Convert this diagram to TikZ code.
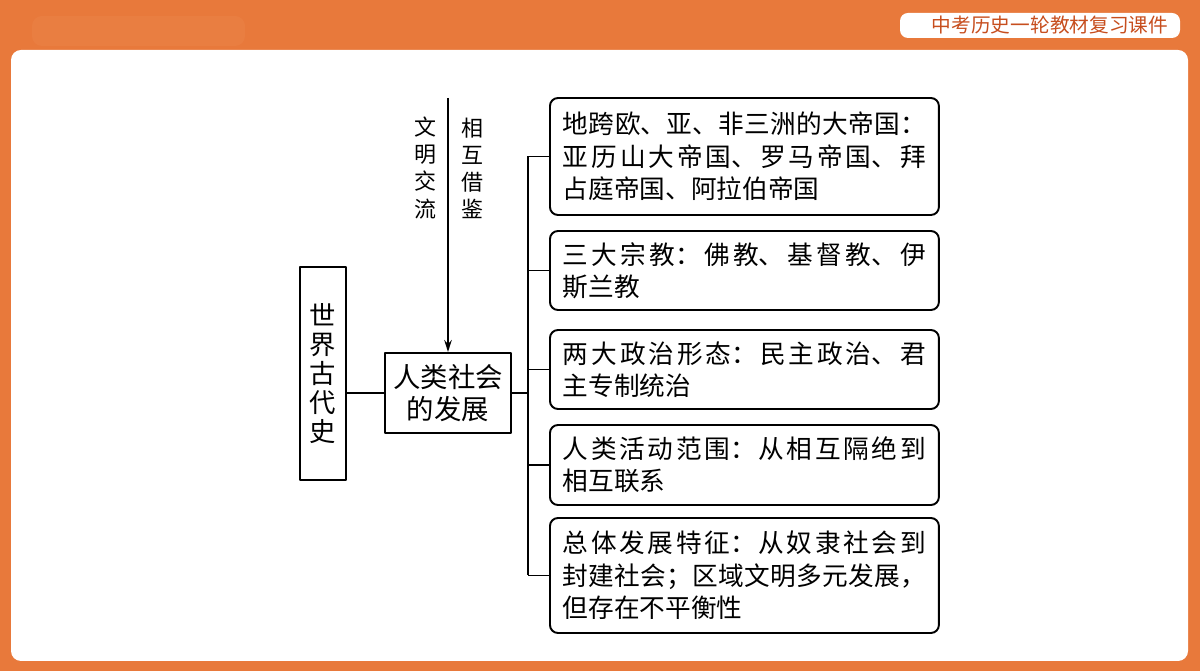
\documentclass[tikz,border=0pt]{standalone}
\usepackage{fontspec}
\newfontfamily\cjk{Noto Sans CJK SC}
\usetikzlibrary{arrows.meta}
\XeTeXlinebreaklocale "zh"
\XeTeXlinebreakskip=0pt plus 3pt
\definecolor{bgorange}{HTML}{E8793B}
\definecolor{glow}{HTML}{EE8A50}
\definecolor{tagred}{HTML}{C74E1E}
\tikzset{
	leafbox/.style={draw, line width=1.1pt, rounded corners=0.16cm, anchor=west,
		minimum width=7.78cm, text width=7.26cm, inner xsep=0.26cm, align=justify,
		font=\cjk\fontsize{14.6}{18.4}\selectfont},
	rootbox/.style={draw, line width=1.1pt, minimum width=0.92cm, minimum height=4.26cm,
		align=center, inner sep=0pt, font=\cjk\fontsize{15}{16.5}\selectfont},
	hubbox/.style={draw, line width=1.1pt, minimum width=2.52cm, minimum height=1.6cm,
		align=center, inner sep=0pt, font=\cjk\fontsize{15.6}{18.2}\selectfont},
	vtext/.style={align=center, inner sep=0pt, font=\cjk\fontsize{12.5}{15.4}\selectfont},
	link/.style={line width=1.1pt}
}
\begin{document}
\begin{tikzpicture}[x=0.02cm, y=-0.02cm, line join=round]
	% Hintergrund
	\useasboundingbox (0,0) rectangle (1200,671);
	\fill[bgorange] (0,0) rectangle (1200,671);
	\fill[glow, opacity=0.3, rounded corners=0.2cm] (32,16) rectangle (245,46);
	\fill[white, rounded corners=0.2cm] (11,50) rectangle (1188,661);
	\fill[white, rounded corners=0.16cm] (900,13) rectangle (1180,38);
	\node[text=tagred, font=\cjk\fontsize{11.2}{13}\selectfont] (tag) at (1050,25.5) {中考历史一轮教材复习课件};
	
	% Knoten
	\node[rootbox] (world) at (323,373.5) {世\\界\\古\\代\\史};
	\node[hubbox] (dev) at (448,393) {人类社会\\的发展};
	\node[vtext] (civ) at (425,168) {文\\明\\交\\流};
	\node[vtext] (learn) at (472,168) {相\\互\\借\\鉴};
	\coordinate (src) at (448,98);
	
	\node[leafbox, minimum height=2.34cm] (b1) at (549,156.5) {地跨欧、亚、非三洲的大帝国：\linebreak 亚历山大帝国、罗马帝国、拜\linebreak 占庭帝国、阿拉伯帝国};
	\node[leafbox, minimum height=1.58cm] (b2) at (549,270.5) {三大宗教：佛教、基督教、伊\linebreak 斯兰教};
	\node[leafbox, minimum height=1.58cm] (b3) at (549,369.5) {两大政治形态：民主政治、君\linebreak 主专制统治};
	\node[leafbox, minimum height=1.6cm] (b4) at (549,465) {人类活动范围：从相互隔绝到\linebreak 相互联系};
	\node[leafbox, minimum height=2.3cm] (b5) at (549,575.5) {总体发展特征：从奴隶社会到\linebreak 封建社会；区域文明多元发展，\linebreak 但存在不平衡性};
	
	% Verbindungen
	\coordinate (bus) at (528,393);
	\draw[link] (world.east |- dev.west) -- (dev.west);
	\draw[link, -{Stealth[length=0.24cm, width=0.15cm]}] (src) -- (dev.north);
	\draw[link] (dev.east) -- (bus);
	\draw[link] (bus |- b1.west) -- (bus |- b5.west);
	\foreach \i in {1,...,5}
		\draw[link] (bus |- b\i.west) -- (b\i.west);
\end{tikzpicture}
\end{document}
